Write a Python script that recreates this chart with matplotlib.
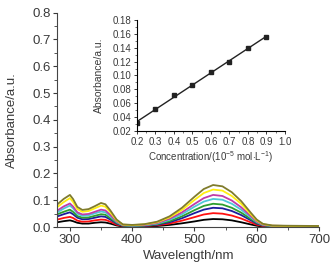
import numpy as np
import matplotlib.pyplot as plt
from matplotlib.ticker import MultipleLocator

plt.rcParams['font.family'] = ['Liberation Sans', 'DejaVu Sans']
plt.rcParams['mathtext.fontset'] = 'custom'
plt.rcParams['mathtext.rm'] = 'Liberation Sans'
plt.rcParams['mathtext.it'] = 'Liberation Sans'

# wavelengths (nm) for the spectra
wavelength = [280, 290, 300, 305, 312, 320, 330, 340, 350, 357, 365, 375, 385, 400,
              420, 440, 460, 480, 500, 515, 530, 545, 560, 575, 590, 600, 610, 625, 650, 700]

abs_black = [.018, .022, .025, .022, .016, .013, .013, .016, .018, .017, .013, .006, .002, .002,
             .003, .004, .008, .014, .021, .027, .030, .029, .025, .018, .010, .005, .002, .001, .001, .001]
abs_red = [.028, .034, .038, .034, .024, .020, .021, .025, .028, .027, .020, .009, .004, .003,
           .004, .007, .013, .024, .037, .047, .052, .050, .043, .032, .018, .009, .004, .002, .002, .002]
abs_blue = [.040, .048, .055, .048, .035, .029, .030, .035, .040, .038, .028, .013, .005, .004,
            .005, .009, .018, .033, .052, .065, .072, .070, .060, .045, .026, .013, .006, .003, .003, .002]
abs_green = [.048, .057, .065, .057, .041, .035, .036, .042, .048, .046, .033, .016, .006, .004,
             .006, .011, .022, .040, .063, .079, .087, .084, .072, .054, .031, .016, .007, .004, .003, .002]
abs_cyan = [.055, .069, .080, .070, .050, .042, .044, .051, .058, .055, .040, .019, .007, .005,
            .007, .013, .027, .048, .076, .095, .105, .102, .087, .065, .037, .019, .008, .004, .003, .003]
abs_magenta = [.062, .077, .088, .077, .055, .047, .049, .057, .065, .062, .045, .021, .008, .006,
               .008, .015, .031, .055, .086, .108, .120, .116, .099, .074, .042, .021, .009, .005, .004, .003]
abs_yellow = [.075, .093, .108, .094, .067, .057, .060, .070, .080, .076, .055, .025, .009, .007,
              .010, .018, .036, .064, .101, .127, .140, .136, .116, .087, .049, .025, .011, .005, .004, .003]
abs_olive = [.085, .105, .120, .105, .075, .064, .067, .078, .090, .085, .062, .028, .010, .008,
             .011, .020, .040, .072, .113, .142, .157, .152, .130, .097, .055, .028, .012, .006, .005, .004]

# inset: absorbance at 530 nm vs concentration
conc = [0.2, 0.3, 0.4, 0.5, 0.6, 0.7, 0.8, 0.9]
abs_peak = [0.031, 0.051, 0.072, 0.086, 0.105, 0.120, 0.140, 0.155]

spectra = [abs_black, abs_red, abs_blue, abs_green, abs_cyan, abs_magenta, abs_yellow, abs_olive]
colors = ['#000000', '#ff1010', '#1c1c9c', '#2e9e2e', '#4ec8d8', '#c03ca8', '#ffee10', '#807c2c']

fig = plt.figure(figsize=(3.34, 2.70), dpi=100)
ax = fig.add_axes([0.172, 0.159, 0.783, 0.794])
for y, c in zip(spectra, colors):
    ax.plot(wavelength, y, color=c, lw=1.3)

ax.set_xlim(280, 700)
ax.set_ylim(0, 0.8)
ax.xaxis.set_major_locator(MultipleLocator(100))
ax.xaxis.set_minor_locator(MultipleLocator(50))
ax.yaxis.set_major_locator(MultipleLocator(0.1))
ax.yaxis.set_minor_locator(MultipleLocator(0.05))
ax.yaxis.set_major_formatter(plt.FormatStrFormatter('%.1f'))
for s in ['top', 'right']:
    ax.spines[s].set_visible(False)
for s in ['left', 'bottom']:
    ax.spines[s].set_color('#444444')
ax.tick_params(which='major', direction='out', length=3, width=0.8, labelsize=9.5, colors='#3a3a3a', pad=2)
ax.tick_params(which='minor', direction='out', length=2, width=0.6, colors='#3a3a3a')
ax.set_xlabel('Wavelength/nm', fontsize=9.5, color='#3a3a3a', labelpad=3)
ax.set_ylabel('Absorbance/a.u.', fontsize=9.5, color='#3a3a3a', labelpad=10)

# inset calibration plot
ins = fig.add_axes([0.410, 0.515, 0.443, 0.411])
k, b = np.polyfit(conc, abs_peak, 1)
xf = np.array([conc[0], conc[-1]])
ins.plot(xf, k * xf + b, color='#222222', lw=1.0)
ins.plot(conc, abs_peak, 's', color='#222222', ms=2.5)
ins.set_xlim(0.2, 1.0)
ins.set_ylim(0.02, 0.18)
ins.xaxis.set_major_locator(MultipleLocator(0.1))
ins.xaxis.set_minor_locator(MultipleLocator(0.05))
ins.yaxis.set_major_locator(MultipleLocator(0.02))
ins.yaxis.set_minor_locator(MultipleLocator(0.01))
ins.yaxis.set_major_formatter(plt.FormatStrFormatter('%.2f'))
ins.xaxis.set_major_formatter(plt.FormatStrFormatter('%.1f'))
for s in ['top', 'right']:
    ins.spines[s].set_visible(False)
ins.tick_params(which='major', direction='out', length=2.5, width=0.7, labelsize=7, colors='#3a3a3a', pad=1.5)
ins.tick_params(which='minor', direction='out', length=1.5, width=0.5, colors='#3a3a3a')
ins.set_xlabel(r'Concentration/(10$^{-5}$ mol$\cdot$L$^{-1}$)', fontsize=7, color='#3a3a3a', labelpad=2)
ins.set_ylabel('Absorbance/a.u.', fontsize=7.5, color='#3a3a3a', labelpad=6)

plt.savefig('out.png', dpi=100)
